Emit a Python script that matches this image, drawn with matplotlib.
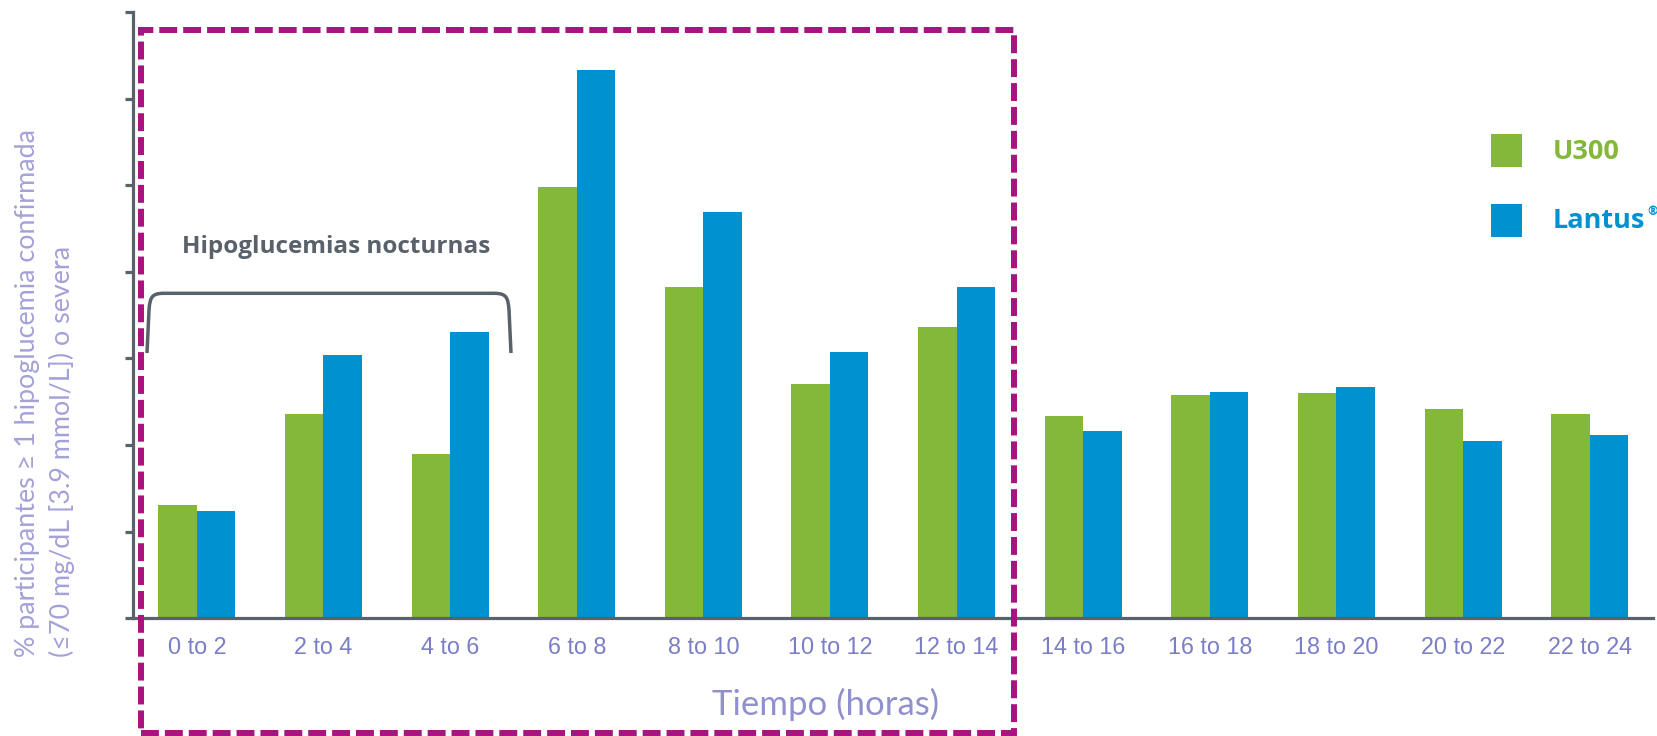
import numpy as np
import matplotlib
matplotlib.use("Agg")
import matplotlib.pyplot as plt
from matplotlib.path import Path
from matplotlib.patches import PathPatch, Rectangle

# ---- data -------------------------------------------------------------
periods = ["0 to 2", "2 to 4", "4 to 6", "6 to 8", "8 to 10", "10 to 12",
           "12 to 14", "14 to 16", "16 to 18", "18 to 20", "20 to 22", "22 to 24"]
u300 = [1.31, 2.36, 1.90, 4.98, 3.82, 2.71, 3.36, 2.33, 2.58, 2.60, 2.42, 2.36]
lantus = [1.24, 3.04, 3.31, 6.33, 4.69, 3.07, 3.83, 2.16, 2.61, 2.67, 2.05, 2.12]
series_names = ["U300", "Lantus"]
ylabel_lines = ["% participantes \u2265 1 hipoglucemia confirmada",
                "(\u226470 mg/dL [3.9 mmol/L]) o severa"]
xlabel = "Tiempo (horas)"
bracket_label = "Hipoglucemias nocturnas"

# ---- styling ----------------------------------------------------------
GREEN = "#83b83a"
BLUE = "#0091d0"
AXIS = "#59616a"
TICK = "#7a7ec6"
XLAB = "#9190cf"
YLAB = "#a3a1d8"
MAG = "#a7137f"

W, H = 1657, 736
fig = plt.figure(figsize=(W / 100, H / 100), dpi=100)
renderer = fig.canvas.get_renderer()


def fx(x):
    return x / W


def fy(y):
    return 1 - y / H


def fit_size(s, target_px, **kw):
    """Font size (pt) that gives the string the wanted pixel width."""
    t = fig.text(0, 0, s, fontsize=20, **kw)
    w = t.get_window_extent(renderer).width
    t.remove()
    return 20 * target_px / w


# ---- axes and bars ----------------------------------------------------
ax = fig.add_axes([fx(133), fy(618.3), fx(1653) - fx(133), fy(12) - fy(618.3)])
x = np.arange(len(periods))
bw = 0.304
ax.bar(x - bw / 2, u300, width=bw, color=GREEN, linewidth=0)
ax.bar(x + bw / 2, lantus, width=bw, color=BLUE, linewidth=0)
ax.set_xlim(-0.504, 11.5)
ax.set_ylim(0, 7)

for side in ("top", "right"):
    ax.spines[side].set_visible(False)
for side in ("left", "bottom"):
    ax.spines[side].set_color(AXIS)
    ax.spines[side].set_linewidth(2.3)

ax.set_yticks(range(8))
ax.set_yticklabels([])
ax.tick_params(axis="y", length=6, width=2.3, color=AXIS, direction="out")

tick_fs = fit_size("8 to 10", 71.7, family="Liberation Sans")
ax.set_xticks(x)
ax.set_xticklabels(periods, fontsize=tick_fs, color=TICK, family="Liberation Sans")
ax.tick_params(axis="x", length=0, pad=13)

# ---- axis titles ------------------------------------------------------
xl_fs = fit_size(xlabel, 227, family="Lato")
fig.text(fx(826), fy(715), xlabel, fontsize=xl_fs, color=XLAB, family="Lato",
         ha="center", va="baseline")

yl_fs = fit_size(ylabel_lines[0], 530, family=["Lato", "DejaVu Sans"])
for xpos, line in zip((35, 70), ylabel_lines):
    fig.text(fx(xpos), fy(657), line, fontsize=yl_fs, color=YLAB,
             family=["Lato", "DejaVu Sans"], rotation=90, rotation_mode="anchor",
             ha="left", va="baseline")

# ---- legend -----------------------------------------------------------
for (top, bottom), col in zip(((134, 166.7), (204, 236.7)), (GREEN, BLUE)):
    fig.patches.append(Rectangle((fx(1490.7), fy(bottom)), fx(1521.7) - fx(1490.7),
                                 fy(top) - fy(bottom), transform=fig.transFigure,
                                 facecolor=col, edgecolor="none"))
leg_fs = fit_size(series_names[0], 67, family="Open Sans", weight="bold")
fig.text(fx(1552.7), fy(159.3), series_names[0], fontsize=leg_fs, color=GREEN,
         family="Open Sans", weight="bold", ha="left", va="baseline")
lt = fig.text(fx(1552.7), fy(228.3), series_names[1], fontsize=leg_fs, color=BLUE,
              family="Open Sans", weight="bold", ha="left", va="baseline")
lt_right = lt.get_window_extent(renderer).x1
fig.text(lt_right / W + fx(2), fy(205), "\u00ae", fontsize=leg_fs * 0.45, color=BLUE,
         family="Open Sans", weight="bold", ha="left", va="top")

# ---- nocturnal bracket ------------------------------------------------
bl, br, btop, bbot = 147, 511, 293.3, 353
pts = [(bl, bbot), (bl + 2, 310), (bl + 3, 297), (bl + 5, btop + 0.3), (bl + 16, btop),
       (br - 16, btop), (br - 5, btop + 0.3), (br - 3, 297), (br - 2, 310), (br, bbot)]
codes = [Path.MOVETO, Path.LINETO, Path.CURVE4, Path.CURVE4, Path.CURVE4,
         Path.LINETO, Path.CURVE4, Path.CURVE4, Path.CURVE4, Path.LINETO]
verts = [(fx(a), fy(b)) for a, b in pts]
fig.patches.append(PathPatch(Path(verts, codes), transform=fig.transFigure,
                             fill=False, edgecolor=AXIS, linewidth=2.5,
                             capstyle="butt", joinstyle="round"))
br_fs = fit_size(bracket_label, 307, family="Open Sans", weight="bold")
fig.text(fx(336.5), fy(253.3), bracket_label, fontsize=br_fs, color=AXIS,
         family="Open Sans", weight="bold", ha="center", va="baseline")

# ---- dashed highlight box around 0-14 h -------------------------------
fig.patches.append(Rectangle((fx(141), fy(733)), fx(1014) - fx(141), fy(30) - fy(733),
                             transform=fig.transFigure, fill=False, edgecolor=MAG,
                             linewidth=4.3, linestyle=(0, (3, 1)), zorder=5))

fig.savefig("out.png", dpi=100)
